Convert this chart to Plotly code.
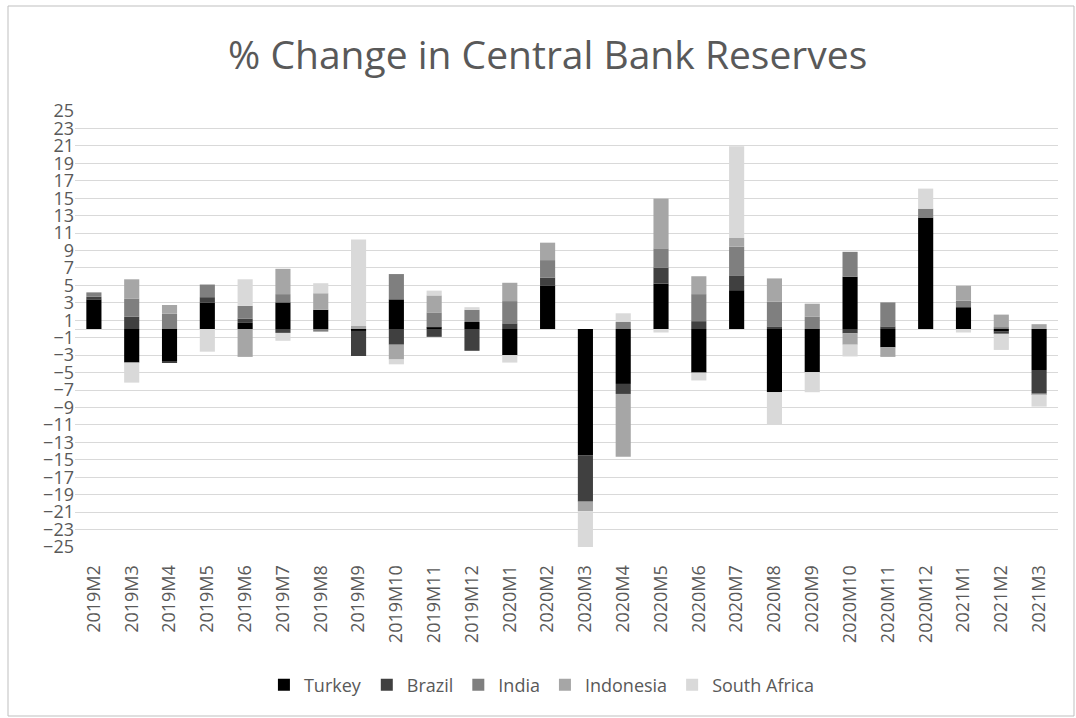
import plotly.graph_objects as go

categories = ["2019M2", "2019M3", "2019M4", "2019M5", "2019M6", "2019M7", "2019M8", "2019M9",
              "2019M10", "2019M11", "2019M12", "2020M1", "2020M2", "2020M3", "2020M4", "2020M5",
              "2020M6", "2020M7", "2020M8", "2020M9", "2020M10", "2020M11", "2020M12", "2021M1",
              "2021M2", "2021M3"]

turkey = [3.4, -3.85, -3.7, 3.0, 0.7, 3.05, 2.2, -0.2, 3.4, 0.2, 0.8, -3.0, 5.0, -14.5, -6.3, 5.2,
          -5.0, 4.45, -7.25, -4.95, 6.0, -2.1, 12.8, 2.5, -0.3, -4.7]
brazil = [0.3, 1.4, -0.15, 0.65, 0.5, -0.45, 0.0, -2.9, -1.8, -0.9, -2.5, 0.65, 0.9, -5.3, -1.15, 1.85,
          0.9, 1.7, 0.3, 0.0, -0.5, 0.3, 0.0, 0.0, -0.25, -2.65]
india = [0.5, 2.1, 1.75, 1.45, 1.45, 0.95, -0.3, 0.0, 2.9, 1.7, 1.4, 2.55, 2.0, 0.0, 0.8, 2.2,
         3.1, 3.3, 2.85, 1.4, 2.85, 2.75, 1.0, 0.75, 0.2, -0.15]
indonesia = [0.0, 2.2, 1.0, 0.0, -3.2, 2.9, 1.9, 0.35, -1.7, 1.95, 0.0, 2.1, 2.0, -1.1, -7.2, 5.7,
             2.05, 1.0, 2.65, 1.5, -1.3, -1.1, 0.0, 1.7, 1.45, 0.55]
south_africa = [0.0, -2.3, 0.0, -2.6, 3.05, -0.9, 1.15, 9.9, -0.55, 0.55, 0.3, -0.85, 0.0, -4.3, 1.0, -0.4,
                -0.9, 10.5, -3.7, -2.3, -1.35, 0.0, 2.3, -0.4, -1.85, -1.4]

series = [
    ("Turkey", turkey, "#000000"),
    ("Brazil", brazil, "#404040"),
    ("India", india, "#7f7f7f"),
    ("Indonesia", indonesia, "#a6a6a6"),
    ("South Africa", south_africa, "#d9d9d9"),
]

FONT = "Open Sans"
TXT = "#595959"

fig = go.Figure()
for name, vals, color in series:
    fig.add_trace(go.Bar(x=categories, y=vals, name=name,
                         marker=dict(color=color, line=dict(width=0))))

fig.update_layout(
    width=1076, height=718,
    barmode="relative",
    bargap=0.6,
    paper_bgcolor="white",
    plot_bgcolor="white",
    margin=dict(l=75, r=18, t=111, b=171, autoexpand=False),
    font=dict(family=FONT, color=TXT, size=18),
    title=dict(text="% Change in Central Bank Reserves", x=0.509, xref="container",
               xanchor="center", y=1 - 55 / 718, yref="container", yanchor="middle",
               font=dict(family=FONT, size=39, color=TXT)),
    legend=dict(orientation="h", x=0.475, xanchor="center", y=-0.3165, yanchor="middle",
                font=dict(family=FONT, size=18, color=TXT), traceorder="normal",
                itemclick=False, itemwidth=30),
    showlegend=True,
)

fig.update_yaxes(range=[-25, 25], tick0=1, dtick=2, showgrid=True, gridcolor="#d9d9d9",
                 gridwidth=1, zeroline=True, zerolinecolor="#d9d9d9", zerolinewidth=1,
                 showline=False, ticks="", automargin=False, tickfont=dict(size=18, color=TXT))
fig.update_xaxes(tickangle=-90, showgrid=False, showline=False, ticks="outside",
                 ticklen=10, tickcolor="rgba(0,0,0,0)", automargin=False,
                 tickfont=dict(size=18, color=TXT))

fig.add_shape(type="rect", xref="paper", yref="paper",
              x0=(8 - 75) / 983, x1=(1074 - 75) / 983,
              y0=(547 - 716) / 436, y1=(547 - 6) / 436,
              line=dict(color="#bfbfbf", width=1), fillcolor="rgba(0,0,0,0)", layer="below")

fig.write_html("out.html", config={"displayModeBar": False},
               post_script="document.body.style.margin='0';document.body.style.overflow='hidden';")
